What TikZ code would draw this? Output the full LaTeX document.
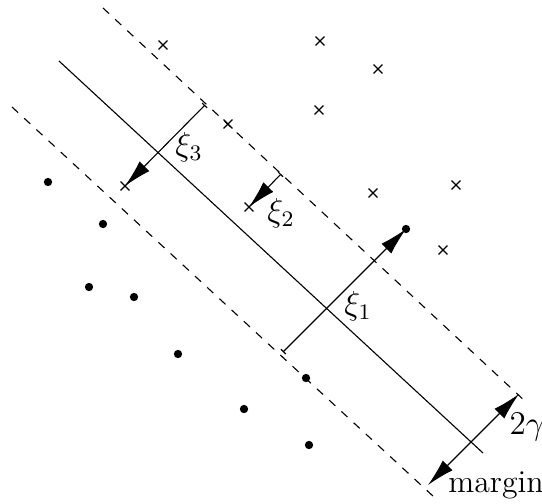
\documentclass[tikz,border=0pt]{standalone}
\usetikzlibrary{arrows.meta,shapes.misc}

\begin{document}
\begin{tikzpicture}[x=0.0127cm,y=-0.0127cm,posx/.style={draw,cross out,inner sep=0pt,minimum size=2.8pt},negdot/.style={circle,fill,inner sep=0pt,minimum size=3pt},slack/.style={{Bar[width=2.5pt]}-{Latex[length=10pt,width=5pt]}},gap/.style={{Latex[length=10pt,width=5pt]}-{Latex[length=10pt,width=5pt]}},lbl/.style={inner sep=0pt,font=\fontsize{11.5pt}{13pt}\selectfont}]
\useasboundingbox (0,0) rectangle (542,503);
% hyperplane and margins
\coordinate (h1) at (59,61);\coordinate (h2) at (483,453);
\coordinate (u1) at (103,8);\coordinate (u2) at (526,402);
\coordinate (l1) at (12,107);\coordinate (l2) at (434,497);
\draw (h1)--(h2);
\draw[dashed] (u1)--(u2);\draw[dashed] (l1)--(l2);
% positive class
\node[posx] (x1) at (163,45) {};\node[posx] (x2) at (320,41) {};
\node[posx] (x3) at (378,69) {};\node[posx] (x4) at (319,110) {};
\node[posx] (x5) at (228,124) {};\node[posx] (x6) at (373,193) {};
\node[posx] (x7) at (456,185) {};\node[posx] (x8) at (443,250) {};
\node[posx] (x9) at (249,207) {};\node[posx] (x10) at (125,186) {};
% negative class
\node[negdot] (o1) at (48,182) {};\node[negdot] (o2) at (103,224) {};
\node[negdot] (o3) at (89,287) {};\node[negdot] (o4) at (134,297) {};
\node[negdot] (o5) at (178,354) {};\node[negdot] (o6) at (244,409) {};
\node[negdot] (o7) at (306,378) {};\node[negdot] (o8) at (309,445) {};
\node[negdot] (o9) at (406,229) {};
% slack variables
\coordinate (s3) at (205,105);\coordinate (s2) at (281,174);\coordinate (s1) at (283,352);
\draw[slack] (s3)--(x10.center);
\draw[slack] (s2)--(x9.center);
\draw[slack] (s1)--(o9.center);
\node[lbl] (xi3) at (189,147) {$\xi_3$};
\node[lbl] (xi2) at (281,213) {$\xi_2$};
\node[lbl] (xi1) at (358,306) {$\xi_1$};
% margin width
\coordinate (m1) at (519,394);\coordinate (m2) at (428,485);
\draw[gap] (m2)--(m1);
\node[lbl] (gam) at (527,427) {$2\gamma$};
\node[lbl] (mar) at (496,485) {margin};
\end{tikzpicture}
\end{document}
